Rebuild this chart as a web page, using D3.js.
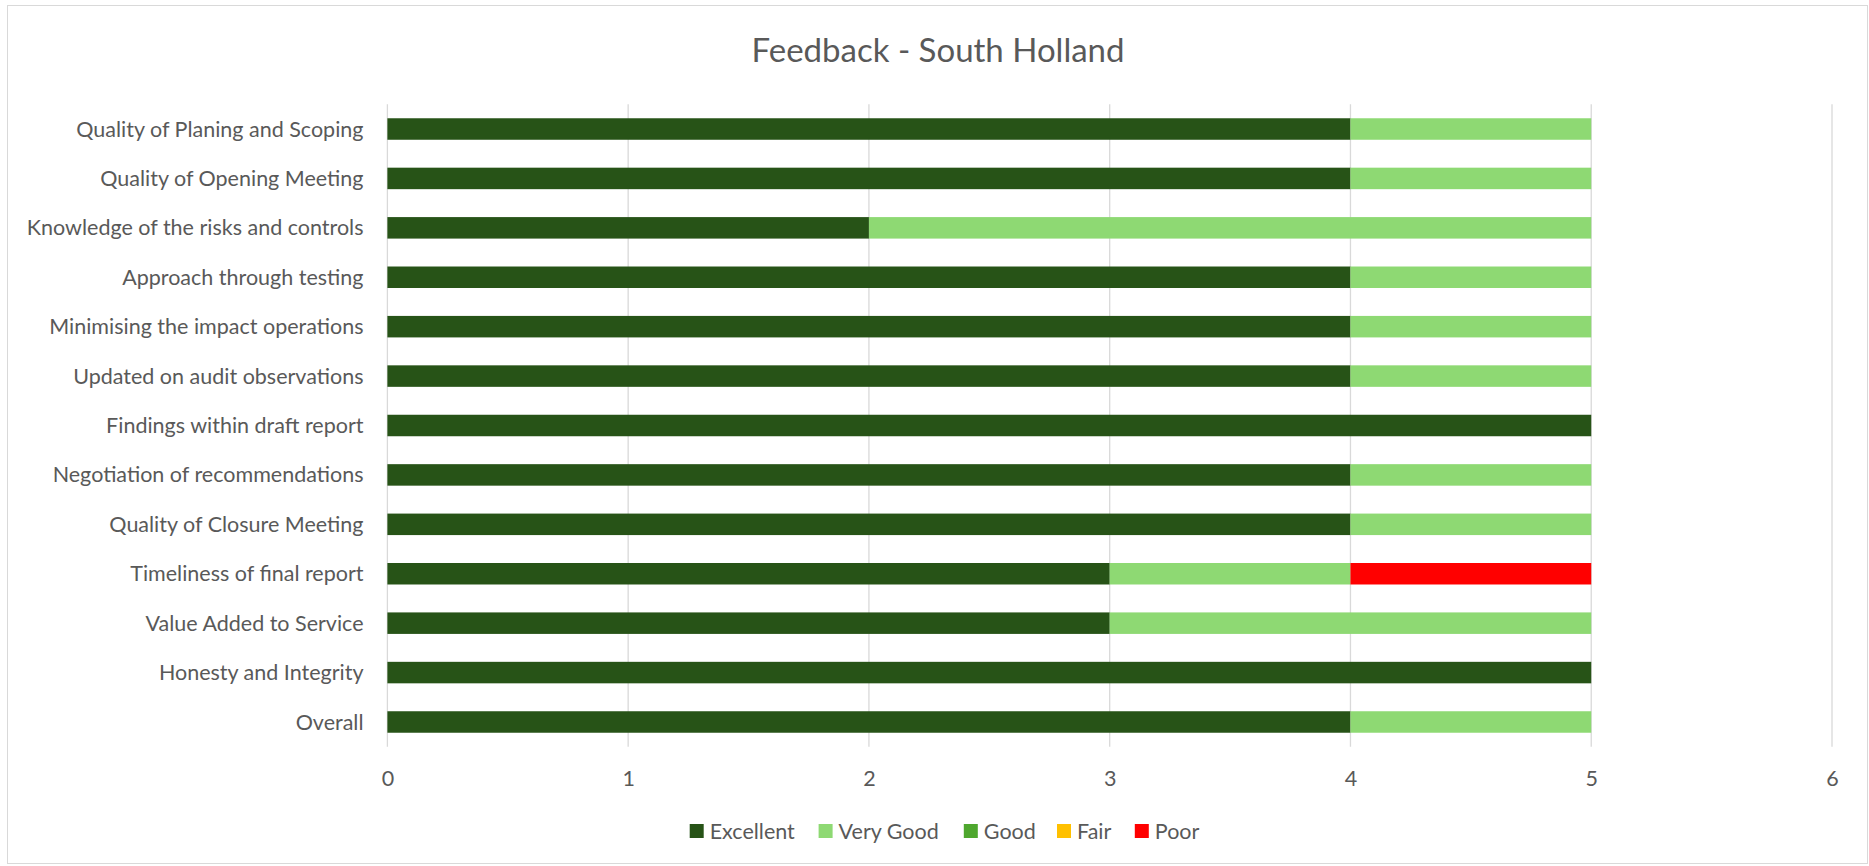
<!DOCTYPE html>
<html>
<head>
<meta charset="utf-8">
<script src="https://cdn.jsdelivr.net/npm/d3@7"></script>
<style>
  html, body { margin: 0; padding: 0; background: #fff; }
  svg { display: block; }
  text { font-family: Lato, "Noto Sans", sans-serif; fill: #595959; }
</style>
</head>
<body>
<svg id="chart" width="1869" height="866"></svg>
<script>
const title = "Feedback - South Holland";
const categories = [
  "Quality of Planing and Scoping",
  "Quality of Opening Meeting",
  "Knowledge of the risks and controls",
  "Approach through testing",
  "Minimising the impact operations",
  "Updated on audit observations",
  "Findings within draft report",
  "Negotiation of recommendations",
  "Quality of Closure Meeting",
  "Timeliness of final report",
  "Value Added to Service",
  "Honesty and Integrity",
  "Overall"
];
const seriesNames = ["Excellent", "Very Good", "Good", "Fair", "Poor"];
const excellent = [4, 4, 2, 4, 4, 4, 5, 4, 4, 3, 3, 5, 4];
const veryGood  = [1, 1, 3, 1, 1, 1, 0, 1, 1, 1, 2, 0, 1];
const good      = [0, 0, 0, 0, 0, 0, 0, 0, 0, 0, 0, 0, 0];
const fair      = [0, 0, 0, 0, 0, 0, 0, 0, 0, 0, 0, 0, 0];
const poor      = [0, 0, 0, 0, 0, 0, 0, 0, 0, 1, 0, 0, 0];
const seriesColors = ["#275317", "#8ED973", "#4EA72E", "#FFC000", "#FF0000"];
const xTicks = [0, 1, 2, 3, 4, 5, 6];

const seriesValues = [excellent, veryGood, good, fair, poor];
const rows = categories.map((c, i) => {
  const r = { category: c };
  seriesNames.forEach((s, j) => r[s] = seriesValues[j][i]);
  return r;
});

const svg = d3.select("#chart");
const W = 1869, H = 866;
const margin = { left: 387.4, right: W - 1832, top: 104.3, bottom: H - 746.7 };

// outer border
svg.append("rect")
  .attr("x", 7.5).attr("y", 5.5)
  .attr("width", W - 9).attr("height", H - 8)
  .attr("fill", "#fff").attr("stroke", "#d9d9d9").attr("stroke-width", 1);

svg.append("text")
  .attr("x", 938).attr("y", 62)
  .attr("text-anchor", "middle")
  .style("font-size", "33px")
  .text(title);

const x = d3.scaleLinear().domain([0, 6]).range([margin.left, W - margin.right]);
const y = d3.scaleBand().domain(categories)
  .range([margin.top, H - margin.bottom])
  .paddingInner(0.565).paddingOuter(0.2825);

// gridlines
svg.append("g").selectAll("line").data(xTicks).join("line")
  .attr("x1", d => x(d)).attr("x2", d => x(d))
  .attr("y1", margin.top).attr("y2", H - margin.bottom)
  .attr("stroke", "#d9d9d9").attr("stroke-width", 1.3);

// stacked bars
const stack = d3.stack().keys(seriesNames)(rows);
svg.append("g").selectAll("g").data(stack).join("g")
  .attr("fill", (d, i) => seriesColors[i])
  .selectAll("rect").data(d => d.filter(p => p[1] - p[0] > 0)).join("rect")
  .attr("x", d => x(d[0]))
  .attr("width", d => x(d[1]) - x(d[0]))
  .attr("y", d => y(d.data.category))
  .attr("height", y.bandwidth());

// x axis labels
const xAxis = d3.axisBottom(x).tickValues(xTicks).tickSize(0).tickPadding(0).tickFormat(d3.format("d"));
const gx = svg.append("g").attr("transform", `translate(0, ${H - margin.bottom})`).call(xAxis);
gx.select(".domain").remove();
gx.selectAll("text").attr("dy", null).attr("y", 39).style("font-size", "21.5px").attr("fill", "#595959");

// y axis labels
const yAxis = d3.axisLeft(y).tickSize(0).tickPadding(0);
const gy = svg.append("g").attr("transform", `translate(${363.5}, 0)`).call(yAxis);
gy.select(".domain").remove();
gy.selectAll("text").style("font-size", "21.5px").attr("fill", "#595959").attr("dy", "0.35em");

// legend
const legendX = [689.7, 818.6, 963.8, 1057, 1134.8];
const lg = svg.append("g");
seriesNames.forEach((s, i) => {
  const g = lg.append("g").attr("transform", `translate(${legendX[i]}, 831)`);
  g.append("rect").attr("x", 0).attr("y", -7).attr("width", 14).attr("height", 14).attr("fill", seriesColors[i]);
  g.append("text").attr("x", 20).attr("y", 0).attr("dy", "0.35em").style("font-size", "21.5px").text(s);
});
</script>
</body>
</html>
